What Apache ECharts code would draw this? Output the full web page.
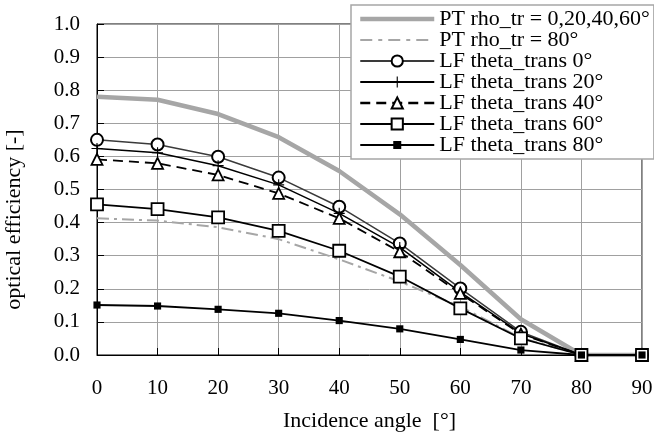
<!DOCTYPE html>
<html>
<head>
<meta charset="utf-8">
<script src="https://cdn.jsdelivr.net/npm/echarts@6/dist/echarts.min.js"></script>
<style>
html,body{margin:0;padding:0;background:#fff;}
#chart{width:654px;height:435px;}
</style>
</head>
<body>
<div id="chart"></div>
<script>
// ---- data ----
const angles = [0, 10, 20, 30, 40, 50, 60, 70, 80, 90];
const yTicks = [0.0, 0.1, 0.2, 0.3, 0.4, 0.5, 0.6, 0.7, 0.8, 0.9, 1.0];
const seriesNames = [
  'PT rho_tr = 0,20,40,60°',
  'PT rho_tr = 80°',
  'LF theta_trans 0°',
  'LF theta_trans 20°',
  'LF theta_trans 40°',
  'LF theta_trans 60°',
  'LF theta_trans 80°'
];
const ptRho0_60 = [0.780, 0.771, 0.728, 0.658, 0.556, 0.425, 0.272, 0.108, 0.0, 0.0];
const ptRho80   = [0.413, 0.406, 0.386, 0.350, 0.289, 0.222, 0.146, 0.052, 0.0, 0.0];
const lfTheta0  = [0.650, 0.636, 0.599, 0.536, 0.448, 0.337, 0.201, 0.070, 0.0, 0.0];
const lfTheta20 = [0.624, 0.611, 0.572, 0.514, 0.428, 0.325, 0.190, 0.065, 0.0, 0.0];
const lfTheta40 = [0.591, 0.579, 0.544, 0.488, 0.413, 0.312, 0.186, 0.063, 0.0, 0.0];
const lfTheta60 = [0.455, 0.441, 0.416, 0.375, 0.315, 0.237, 0.141, 0.050, 0.0, 0.0];
const lfTheta80 = [0.151, 0.148, 0.138, 0.126, 0.104, 0.079, 0.047, 0.015, 0.0, 0.0];

// ---- chart ----
const FONT = '"Liberation Serif", "Times New Roman", serif';
const pair = arr => angles.map((a, i) => [a, arr[i]]);
const PLUS = 'path://M9,0 L11,0 L11,9 L20,9 L20,11 L11,11 L11,20 L9,20 L9,11 L0,11 L0,9 L9,9 Z';
const SMALLSQ = 'path://M0,0 M14,14 M2,2 L12,2 L12,12 L2,12 Z';
// legend icons for the symbol-less PT curves (bounding box 74 x 14)
const ICON_THICK = 'path://M0,0 M74,14 M0,4.7 L74,4.7 L74,9.3 L0,9.3 Z';
const ICON_DASHDOT = 'path://M0,0 M74,14 ' +
  'M0,6 L12,6 L12,8 L0,8 Z M18,6 L22,6 L22,8 L18,8 Z ' +
  'M28,6 L40,6 L40,8 L28,8 Z M46,6 L50,6 L50,8 L46,8 Z ' +
  'M56,6 L68,6 L68,8 L56,8 Z';

const chart = echarts.init(document.getElementById('chart'), null, {renderer: 'canvas'});
const option = {
  animation: false,
  backgroundColor: '#fff',
  textStyle: {fontFamily: FONT},
  grid: {left: 97, right: 12, top: 24, bottom: 80, show: true, borderColor: '#000', borderWidth: 1,
         containLabel: false, outerBoundsMode: 'none'},
  xAxis: {
    type: 'value', min: 0, max: 90, interval: 10,
    name: 'Incidence angle  [°]', nameLocation: 'middle', nameGap: 55,
    nameTextStyle: {fontFamily: FONT, fontSize: 22, color: '#000'},
    axisLine: {lineStyle: {color: '#000', width: 1}},
    axisTick: {show: true, inside: true, length: 7, lineStyle: {color: '#000'}},
    axisLabel: {fontFamily: FONT, fontSize: 21, color: '#000', margin: 23},
    splitLine: {show: true, lineStyle: {color: '#a0a0a0', width: 1}}
  },
  yAxis: {
    type: 'value', min: yTicks[0], max: yTicks[yTicks.length - 1], interval: 0.1,
    name: 'optical efficiency [-]', nameLocation: 'middle', nameGap: 72,
    nameTextStyle: {fontFamily: FONT, fontSize: 22, color: '#000', padding: [0, 60, 0, 0]},
    axisLine: {show: true, lineStyle: {color: '#000', width: 1}},
    axisTick: {show: true, inside: true, length: 7, lineStyle: {color: '#000'}},
    axisLabel: {fontFamily: FONT, fontSize: 21, color: '#000', margin: 17,
      formatter: v => v.toFixed(1)},
    splitLine: {show: true, lineStyle: {color: '#a0a0a0', width: 1}}
  },
  legend: {
    orient: 'vertical', left: 351, top: 5,
    itemWidth: 74, itemHeight: 14, itemGap: -1,
    padding: [3, 4, 3, 8],
    backgroundColor: '#fff', borderColor: '#a6a6a6', borderWidth: 1.5,
    textStyle: {fontFamily: FONT, fontSize: 22, color: '#000', lineHeight: 20.2},
    data: [
      {name: seriesNames[0], icon: ICON_THICK, itemStyle: {color: '#a6a6a6'}},
      {name: seriesNames[1], icon: ICON_DASHDOT, itemStyle: {color: '#a6a6a6'}},
      {name: seriesNames[2], lineStyle: {width: 2}},
      {name: seriesNames[3], lineStyle: {width: 2}},
      {name: seriesNames[4], lineStyle: {width: 2.5}},
      {name: seriesNames[5], lineStyle: {width: 2}},
      {name: seriesNames[6], lineStyle: {width: 2}}
    ]
  },
  series: [
    {name: seriesNames[0], type: 'line', data: pair(ptRho0_60), symbol: 'none',
     lineStyle: {color: '#a6a6a6', width: 4.5}, itemStyle: {color: '#a6a6a6'}},
    {name: seriesNames[1], type: 'line', data: pair(ptRho80), symbol: 'none',
     lineStyle: {color: '#a6a6a6', width: 2, type: [12, 5, 3, 5]}, itemStyle: {color: '#a6a6a6'}},
    {name: seriesNames[2], type: 'line', data: pair(lfTheta0), symbol: 'circle', symbolSize: 12,
     lineStyle: {color: '#3a3a3a', width: 1.5},
     itemStyle: {color: '#fff', borderColor: '#000', borderWidth: 2}},
    {name: seriesNames[3], type: 'line', data: pair(lfTheta20), symbol: PLUS, symbolSize: 11,
     lineStyle: {color: '#000', width: 1.5},
     itemStyle: {color: '#000', borderWidth: 0}},
    {name: seriesNames[4], type: 'line', data: pair(lfTheta40), symbol: 'triangle', symbolSize: 11,
     lineStyle: {color: '#000', width: 1.8, type: [10, 6]},
     itemStyle: {color: '#fff', borderColor: '#000', borderWidth: 1.8}},
    {name: seriesNames[5], type: 'line', data: pair(lfTheta60), symbol: 'rect', symbolSize: 12,
     lineStyle: {color: '#000', width: 1.8},
     itemStyle: {color: '#fff', borderColor: '#000', borderWidth: 1.8}},
    {name: seriesNames[6], type: 'line', data: pair(lfTheta80), symbol: SMALLSQ, symbolSize: 10,
     lineStyle: {color: '#000', width: 1.8},
     itemStyle: {color: '#000', borderWidth: 0}}
  ]
};
chart.setOption(option);
</script>
</body>
</html>
